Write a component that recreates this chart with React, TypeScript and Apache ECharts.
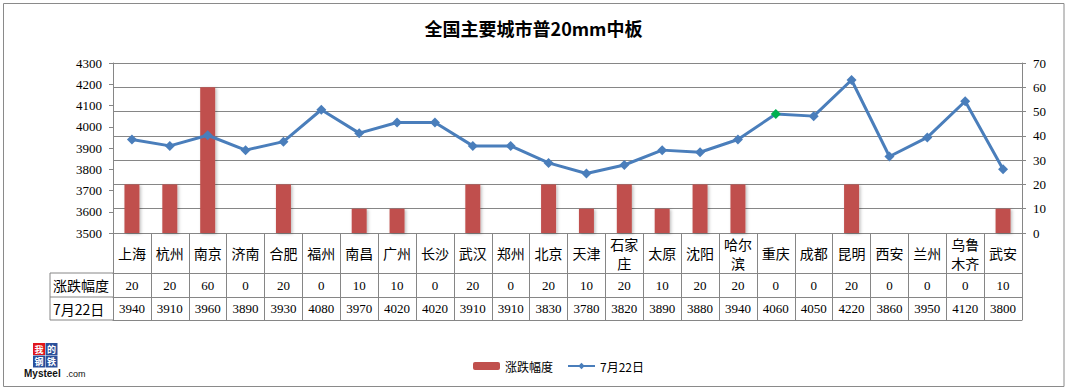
import React, { useEffect, useRef } from "react";
import * as echarts from "echarts";

const title = "全国主要城市普20mm中板";
const cities = ["上海", "杭州", "南京", "济南", "合肥", "福州", "南昌", "广州", "长沙", "武汉", "郑州", "北京", "天津", "石家庄", "太原", "沈阳", "哈尔滨", "重庆", "成都", "昆明", "西安", "兰州", "乌鲁木齐", "武安"];
const changes = [20, 20, 60, 0, 20, 0, 10, 10, 0, 20, 0, 20, 10, 20, 10, 20, 20, 0, 0, 20, 0, 0, 0, 10];
const prices = [3940, 3910, 3960, 3890, 3930, 4080, 3970, 4020, 4020, 3910, 3910, 3830, 3780, 3820, 3890, 3880, 3940, 4060, 4050, 4220, 3860, 3950, 4120, 3800];
const changeName = "涨跌幅度";
const priceName = "7月22日";
const highlightIndex = 17;
const leftTicks = { min: 3500, max: 4300, interval: 100 };
const rightTicks = { min: 0, max: 70, interval: 10 };

const GRID = "#868686";
const NUM_FONT = "Liberation Serif";
const CJK_FONT = "Noto Sans CJK SC";

export default function App() {
  const ref = useRef<HTMLDivElement>(null);
  useEffect(() => {
    document.body.style.margin = "0";
    const chart = echarts.init(ref.current!, null, { renderer: "svg" });
    const gridLeft = 113;
    const gridRight = 1067 - 1022;
    const gridTop = 63;
    const gridBottomY = 233;
    const row1 = gridBottomY + 40;
    const row2 = gridBottomY + 64;
    const row3 = gridBottomY + 87;
    const headerX = 50;

    const rowAxis = (offset: number, margin: number, values: (number | string)[] | null) => ({
      type: "category",
      data: cities,
      position: "bottom",
      offset,
      axisLine: { show: true, lineStyle: { color: GRID, width: 1 } },
      axisTick: { show: false },
      axisLabel: values
        ? {
            show: true,
            interval: 0,
            margin,
            verticalAlign: "middle",
            color: "#000",
            fontSize: 13,
            fontFamily: NUM_FONT,
            formatter: (_v: string, i: number) => String(values[i]),
          }
        : { show: false },
      splitLine: { show: false },
    });

    const logoChar = (t: string, x: number, y: number) => ({
      type: "text",
      x,
      y,
      style: { text: t, fontSize: 9, fill: "#fff", align: "center", verticalAlign: "middle", fontFamily: CJK_FONT, fontWeight: "bold", lineHeight: 10 },
    });

    chart.setOption({
      animation: false,
      backgroundColor: "#fff",
      title: {
        text: title,
        left: "center",
        top: 14,
        textStyle: { fontSize: 18, fontWeight: "bold", color: "#000", fontFamily: CJK_FONT },
      },
      legend: {
        data: [changeName, priceName],
        left: 468,
        top: 355,
        itemWidth: 27,
        itemHeight: 8,
        itemGap: 14,
        textStyle: { fontSize: 12, color: "#000", fontFamily: CJK_FONT },
      },
      grid: { left: gridLeft, right: gridRight, top: gridTop, bottom: 390 - gridBottomY, containLabel: false },
      xAxis: [
        {
          type: "category",
          data: cities,
          position: "bottom",
          boundaryGap: true,
          axisLine: { show: true, lineStyle: { color: GRID, width: 1 } },
          axisTick: { show: true, interval: 0, length: row3 - gridBottomY, lineStyle: { color: GRID } },
          axisLabel: {
            interval: 0,
            margin: 20,
            verticalAlign: "middle",
            color: "#000",
            fontSize: 14,
            lineHeight: 19,
            fontFamily: CJK_FONT,
            formatter: (v: string) => (v.length > 2 ? v.slice(0, 2) + "\n" + v.slice(2) : v),
          },
          splitLine: { show: false },
        },
        rowAxis(40, 12, changes),
        rowAxis(64, 11.5, prices),
        rowAxis(87, 0, null),
      ],
      yAxis: [
        {
          type: "value",
          position: "left",
          min: leftTicks.min,
          max: leftTicks.max,
          interval: leftTicks.interval,
          axisLine: { show: true, lineStyle: { color: GRID } },
          axisTick: { show: true, length: 4, lineStyle: { color: GRID } },
          axisLabel: { margin: 11, color: "#000", fontSize: 13, fontFamily: NUM_FONT, formatter: (v: number) => String(v) },
          splitLine: { show: false },
        },
        {
          type: "value",
          position: "right",
          min: rightTicks.min,
          max: rightTicks.max,
          interval: rightTicks.interval,
          axisLine: { show: true, lineStyle: { color: GRID } },
          axisTick: { show: true, length: 4, lineStyle: { color: GRID } },
          axisLabel: { margin: 11, color: "#000", fontSize: 13, fontFamily: NUM_FONT, formatter: (v: number) => String(v) },
          splitLine: { show: true, lineStyle: { color: GRID, width: 1 } },
        },
      ],
      series: [
        {
          name: changeName,
          type: "bar",
          xAxisIndex: 0,
          yAxisIndex: 1,
          data: changes,
          barWidth: 15,
          itemStyle: {
            color: "#C0504D",
            shadowColor: "rgba(0,0,0,0.25)",
            shadowBlur: 3,
            shadowOffsetX: 1.5,
            shadowOffsetY: 1,
          },
          z: 2,
        },
        {
          name: priceName,
          type: "line",
          xAxisIndex: 0,
          yAxisIndex: 0,
          data: prices.map((v, i) => (i === highlightIndex ? { value: v, itemStyle: { color: "#00B050" } } : v)),
          symbol: "diamond",
          symbolSize: 10,
          lineStyle: { color: "#4A7EBB", width: 3 },
          itemStyle: { color: "#4A7EBB" },
          z: 3,
        },
      ],
      graphic: [
        {
          type: "rect",
          shape: { x: 3.5, y: 3.5, width: 1060.5, height: 383 },
          style: { fill: "none", stroke: "#8a8a8a", lineWidth: 1 },
          silent: true,
        },
        { type: "line", shape: { x1: headerX, y1: row1, x2: gridLeft, y2: row1 }, style: { stroke: GRID, lineWidth: 1 } },
        { type: "line", shape: { x1: headerX, y1: row2, x2: gridLeft, y2: row2 }, style: { stroke: GRID, lineWidth: 1 } },
        { type: "line", shape: { x1: headerX, y1: row3, x2: gridLeft, y2: row3 }, style: { stroke: GRID, lineWidth: 1 } },
        { type: "line", shape: { x1: headerX, y1: row1, x2: headerX, y2: row3 }, style: { stroke: GRID, lineWidth: 1 } },
        {
          type: "text",
          x: headerX + 3,
          y: (row1 + row2) / 2,
          style: { text: changeName, fontSize: 14, fontFamily: CJK_FONT, fill: "#000", verticalAlign: "middle", align: "left" },
        },
        {
          type: "text",
          x: headerX + 3,
          y: (row2 + row3) / 2,
          style: { text: priceName, fontSize: 14, fontFamily: CJK_FONT, fill: "#000", verticalAlign: "middle", align: "left" },
        },
        {
          type: "group",
          x: 33,
          y: 343,
          children: [
            { type: "rect", shape: { x: 0, y: 0, width: 12, height: 12 }, style: { fill: "#E0161C" } },
            { type: "rect", shape: { x: 12.5, y: 0, width: 12, height: 12 }, style: { fill: "#2A4F9A" } },
            { type: "rect", shape: { x: 0, y: 12.5, width: 12, height: 12 }, style: { fill: "#2A4F9A" } },
            { type: "rect", shape: { x: 12.5, y: 12.5, width: 12, height: 12 }, style: { fill: "#2A4F9A" } },
            logoChar("我", 6, 6),
            logoChar("的", 18.5, 6),
            logoChar("钢", 6, 18.5),
            logoChar("铁", 18.5, 18.5),
            { type: "text", x: -9, y: 25, style: { text: "Mysteel", fontSize: 10, fill: "#111", fontFamily: "Liberation Sans", fontWeight: "bold", lineHeight: 11 } },
            { type: "text", x: 33, y: 26, style: { text: ".com", fontSize: 9, fill: "#111", fontFamily: "Liberation Sans", lineHeight: 10 } },
          ],
        },
      ],
    });
    return () => chart.dispose();
  }, []);
  return <div ref={ref} style={{ width: 1067, height: 390 }} />;
}
